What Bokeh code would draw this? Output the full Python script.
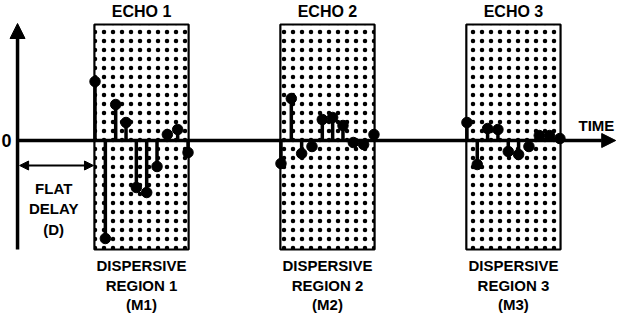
from bokeh.plotting import figure
from bokeh.models import Arrow, NormalHead, ColumnDataSource, Range1d
from bokeh.core.properties import value
from bokeh.embed import file_html
from bokeh.resources import INLINE

# ---- data ----
echo_labels = ["ECHO 1", "ECHO 2", "ECHO 3"]
region_labels = ["REGION 1", "REGION 2", "REGION 3"]
m_labels = ["(M1)", "(M2)", "(M3)"]
echo_start = [7.5, 25.5, 43.5]          # time of first tap of each echo
tap_spacing = 1.0
echo1_amp = [0.59, -0.98, 0.36, 0.18, -0.47, -0.52, -0.26, 0.06, 0.11, -0.12]
echo2_amp = [-0.23, 0.42, -0.13, -0.06, 0.21, 0.23, 0.15, -0.02, -0.04, 0.06]
echo3_amp = [0.18, -0.24, 0.12, 0.11, -0.11, -0.14, -0.06, 0.05, 0.05, 0.02]
echo_amps = [echo1_amp, echo2_amp, echo3_amp]
flat_delay = 7.45
box_top, box_bottom = 1.16, -1.09
time_end = 57.9

FONT = value("Liberation Sans")

p = figure(width=618, height=315, output_backend="svg", toolbar_location=None,
           x_range=Range1d(-1.65, 58.17), y_range=Range1d(-1.75, 1.40),
           min_border=0)
p.axis.visible = False
p.grid.visible = False
p.outline_line_color = None
p.background_fill_color = "white"

# dispersive region boxes (dotted)
lefts = [s - 0.06 for s in echo_start]
rights = [s + 9 * tap_spacing + 0.06 for s in echo_start]
p.quad(left=lefts, right=rights, top=box_top, bottom=box_bottom,
       fill_color="white", line_color="black", line_width=2.2,
       hatch_pattern="dot", hatch_scale=9, hatch_weight=0.5,
       hatch_color="black")

# stems
xs, ys = [], []
for s, amps in zip(echo_start, echo_amps):
    for i, a in enumerate(amps):
        xs.append(s + i * tap_spacing)
        ys.append(a)
src = ColumnDataSource(dict(x=xs, y=ys, z=[0] * len(xs)))
p.segment(x0="x", y0="z", x1="x", y1="y", source=src, line_width=3.5, line_color="black")
p.scatter("x", "y", source=src, size=10.5, color="black")

# axes
p.add_layout(Arrow(x_start=0, y_start=0, x_end=time_end, y_end=0, line_width=3.5,
                   end=NormalHead(size=14, fill_color="black", line_color="black")))
p.add_layout(Arrow(x_start=0, y_start=box_bottom, x_end=0, y_end=box_top + 0.01, line_width=3.5,
                   end=NormalHead(size=15, fill_color="black", line_color="black")))
# flat delay arrow
p.add_layout(Arrow(x_start=0.2, y_start=-0.25, x_end=flat_delay - 0.1, y_end=-0.25, line_width=2,
                   start=NormalHead(size=9, fill_color="black", line_color="black"),
                   end=NormalHead(size=9, fill_color="black", line_color="black")))

centers = [(l + r) / 2 for l, r in zip(lefts, rights)]
tkw = dict(text_font=FONT, text_font_style="bold", text_align="center",
           text_baseline="middle", text_color="black")
p.text(x=centers, y=[1.29] * 3, text=echo_labels, text_font_size="16px", **tkw)
p.text(x=centers, y=[-1.25] * 3, text=["DISPERSIVE"] * 3, text_font_size="15px", **tkw)
p.text(x=centers, y=[-1.445] * 3, text=region_labels, text_font_size="15px", **tkw)
p.text(x=centers, y=[-1.64] * 3, text=m_labels, text_font_size="15px", **tkw)
p.text(x=[3.5] * 3, y=[-0.48, -0.68, -0.89], text=["FLAT", "DELAY", "(D)"],
       text_font_size="15px", **tkw)
p.text(x=[-1.06], y=[0.0], text=["0"], text_font_size="18px", **tkw)
p.text(x=[54.3], y=[0.15], text=["TIME"], text_font=FONT, text_font_style="bold",
       text_align="left", text_baseline="middle", text_font_size="15px")

open("out.html", "w").write(file_html(p, INLINE))
